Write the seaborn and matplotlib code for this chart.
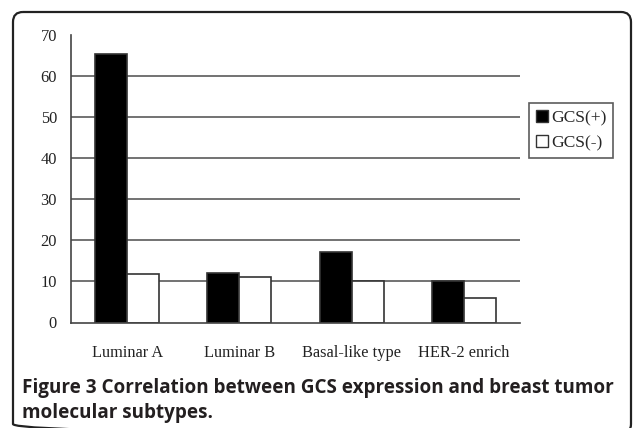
import matplotlib
matplotlib.use("Agg")
import matplotlib.pyplot as plt
import seaborn as sns
import pandas as pd
from matplotlib.patches import FancyBboxPatch, Patch

subtypes = ["Luminar A", "Luminar B", "Basal-like type", "HER-2 enrich"]
gcs_pos = [65.3, 12.0, 17.2, 10.0]
gcs_neg = [11.9, 11.2, 10.0, 6.0]
series_names = ["GCS(+)", "GCS(-)"]
y_ticks = [0, 10, 20, 30, 40, 50, 60, 70]

df = pd.DataFrame({
    "subtype": subtypes * 2,
    "value": gcs_pos + gcs_neg,
    "group": [series_names[0]] * 4 + [series_names[1]] * 4,
})

sns.set_theme(style="white")
plt.rcParams["font.family"] = ["Liberation Serif", "DejaVu Serif"]

W, H = 633, 428
fig = plt.figure(figsize=(W / 100, H / 100), dpi=100)

# background frame
bg = fig.add_axes([0, 0, 1, 1], zorder=-5)
bg.set_xlim(0, W)
bg.set_ylim(H, 0)
bg.axis("off")
bg.add_patch(FancyBboxPatch((13, 12), 618, 422,
                            boxstyle="round,pad=0,rounding_size=10",
                            fill=False, edgecolor="#222222", linewidth=1.6))

left, right, top, bottom = 71, 520, 35, 322.5
ax = fig.add_axes([left / W, 1 - bottom / H, (right - left) / W, (bottom - top) / H])
ax.patch.set_alpha(0)

sns.barplot(data=df, x="subtype", y="value", hue="group",
            palette=["black", "white"], edgecolor="#333333", linewidth=1.2,
            width=0.57, ax=ax, legend=False, zorder=3)

ax.set_ylim(0, 70)
ax.set_xlim(-0.5, 3.5)
ax.set_yticks(y_ticks)
for v in y_ticks[1:-1]:
    ax.axhline(v, color="#5a5a5a", linewidth=1.2, zorder=1)

ax.set_xlabel("")
ax.set_ylabel("")
for s in ["top", "right"]:
    ax.spines[s].set_visible(False)
for s in ["left", "bottom"]:
    ax.spines[s].set_color("#444444")
    ax.spines[s].set_linewidth(1.2)
    ax.spines[s].set_zorder(4)

ax.tick_params(axis="y", length=0, pad=10, labelsize=11.8, labelcolor="#222222")
ax.tick_params(axis="x", which="major", length=0, pad=16, labelsize=11.8, labelcolor="#222222")
ax.set_xticks([0.5, 1.5, 2.5], minor=True)
ax.tick_params(axis="x", which="minor", direction="in", length=5, width=1.2, color="#444444")

handles = [Patch(facecolor="black", edgecolor="#333333", linewidth=1),
           Patch(facecolor="white", edgecolor="#333333", linewidth=1)]
leg = fig.legend(handles, series_names, loc="upper left",
                 bbox_to_anchor=(529 / W, 1 - 103 / H),
                 frameon=True, fancybox=False, edgecolor="#333333",
                 fontsize=12.6, handlelength=0.7, handleheight=0.7,
                 handletextpad=0.2, borderpad=0.38, labelspacing=0.5,
                 borderaxespad=0)
leg.get_frame().set_linewidth(1.2)

cap_font = ["Open Sans", "DejaVu Sans"]
fig.text(22 / W, 1 - 393 / H, "Figure 3 Correlation between GCS expression and breast tumor",
         family=cap_font, fontweight="bold", fontsize=13.6, color="#231f20", va="baseline")
fig.text(22 / W, 1 - 418 / H, "molecular subtypes.",
         family=cap_font, fontweight="bold", fontsize=13.6, color="#231f20", va="baseline")

fig.savefig("out.png", dpi=100)
